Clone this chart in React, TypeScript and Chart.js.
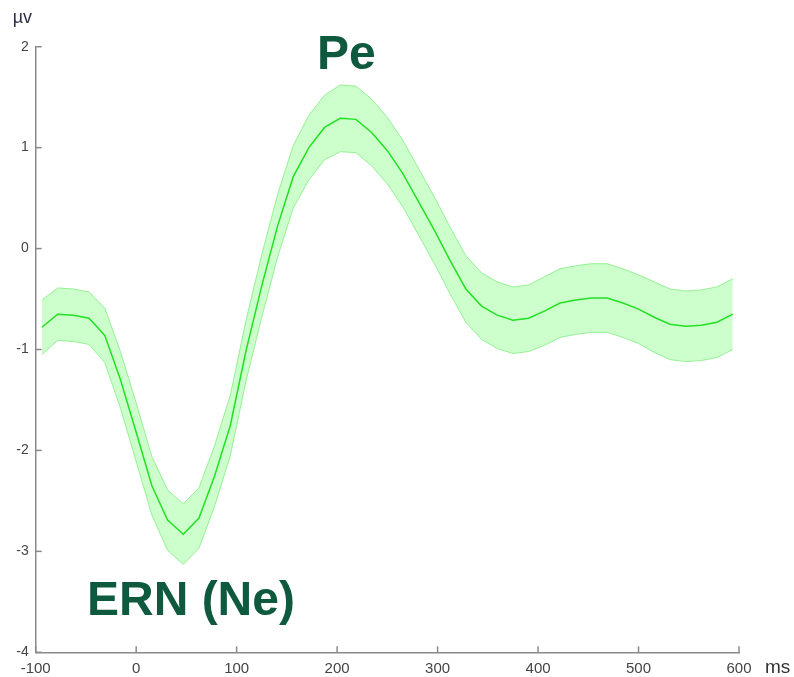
import React, { useEffect, useRef } from "react";
import { Chart, registerables } from "chart.js";

Chart.register(...registerables);

// ---- data ----
const timesMs = [
  -93.75, -78.125, -62.5, -46.875, -31.25, -15.625, 0, 15.625, 31.25, 46.875,
  62.5, 78.125, 93.75, 109.375, 125, 140.625, 156.25, 171.875, 187.5, 203.125,
  218.75, 234.375, 250, 265.625, 281.25, 296.875, 312.5, 328.125, 343.75, 359.375,
  375, 390.625, 406.25, 421.875, 437.5, 453.125, 468.75, 484.375, 500, 515.625,
  531.25, 546.875, 562.5, 578.125, 593.75,
];

const meanUv = [
  -0.78, -0.65, -0.66, -0.69, -0.86, -1.3, -1.82, -2.35, -2.69, -2.83,
  -2.67, -2.25, -1.75, -1.01, -0.37, 0.22, 0.71, 1.0, 1.2, 1.29,
  1.28, 1.15, 0.97, 0.74, 0.46, 0.18, -0.12, -0.4, -0.57, -0.66,
  -0.71, -0.69, -0.62, -0.54, -0.51, -0.49, -0.49, -0.54, -0.6, -0.68,
  -0.75, -0.77, -0.76, -0.73, -0.65,
];

const semUv = [
  0.27, 0.26, 0.26, 0.26, 0.27, 0.28, 0.29, 0.29, 0.3, 0.3,
  0.3, 0.3, 0.3, 0.3, 0.31, 0.31, 0.31, 0.32, 0.32, 0.33,
  0.33, 0.33, 0.33, 0.33, 0.33, 0.33, 0.33, 0.33, 0.33, 0.33,
  0.33, 0.33, 0.34, 0.34, 0.34, 0.34, 0.34, 0.34, 0.34, 0.35,
  0.35, 0.35, 0.35, 0.35, 0.35,
];

const xTickValues = [-100, 0, 100, 200, 300, 400, 500, 600];
const yTickValues = [-4, -3, -2, -1, 0, 1, 2];

const componentLabels = [
  { text: "Pe", x: 183, y: 1.775 },
  { text: "ERN (Ne)", x: -46, y: -3.63 },
];

const xUnitLabel = "ms";
const yUnitLabel = "µv";

// ---- styles ----
const AXIS_COLOR = "#8a8a8a";
const TICK_TEXT = "#444444";
const LINE_COLOR = "#22e022";
const BAND_FILL = "rgba(204,255,204,1)";
const BAND_EDGE = "rgba(140,240,140,0.9)";
const LABEL_GREEN = "#0f5a3e";
const FONT = "'Liberation Sans', Arial, sans-serif";

export default function App() {
  const canvasRef = useRef<HTMLCanvasElement | null>(null);

  useEffect(() => {
    const canvas = canvasRef.current;
    if (!canvas) return;

    const meanPts = timesMs.map((t, i) => ({ x: t, y: meanUv[i] }));
    const lowerPts = timesMs.map((t, i) => ({ x: t, y: meanUv[i] - semUv[i] }));
    const upperPts = timesMs.map((t, i) => ({ x: t, y: meanUv[i] + semUv[i] }));

    const overlay = {
      id: "overlay",
      afterDraw(chart: any) {
        const { ctx, chartArea } = chart;
        const xs = chart.scales.x;
        const ys = chart.scales.y;
        ctx.save();
        ctx.strokeStyle = AXIS_COLOR;
        ctx.lineWidth = 1.5;
        xTickValues.forEach((v) => {
          const px = xs.getPixelForValue(v);
          ctx.beginPath();
          ctx.moveTo(px, chartArea.bottom);
          ctx.lineTo(px, chartArea.bottom - 6);
          ctx.stroke();
        });
        yTickValues.forEach((v) => {
          const py = ys.getPixelForValue(v);
          ctx.beginPath();
          ctx.moveTo(chartArea.left, py);
          ctx.lineTo(chartArea.left + 6, py);
          ctx.stroke();
        });

        ctx.fillStyle = LABEL_GREEN;
        ctx.font = `bold 48px ${FONT}`;
        ctx.textAlign = "left";
        ctx.textBaseline = "alphabetic";
        componentLabels.forEach((l) => {
          ctx.fillText(l.text, xs.getPixelForValue(l.x) - 3, ys.getPixelForValue(l.y));
        });

        ctx.fillStyle = "#2e2e4a";
        ctx.font = `18px ${FONT}`;
        ctx.fillText(yUnitLabel, chartArea.left - 23, chartArea.top - 24);

        ctx.fillStyle = "#333333";
        ctx.font = `19px ${FONT}`;
        ctx.fillText(xUnitLabel, chartArea.right + 26, chartArea.bottom + 21);
        ctx.restore();
      },
    };

    const chart = new Chart(canvas, {
      type: "line",
      data: {
        datasets: [
          {
            label: "mean",
            data: meanPts,
            borderColor: LINE_COLOR,
            borderWidth: 1.5,
            pointRadius: 0,
            tension: 0,
            fill: false,
          },
          {
            label: "lower",
            data: lowerPts,
            borderColor: BAND_EDGE,
            borderWidth: 1,
            pointRadius: 0,
            tension: 0,
            fill: false,
          },
          {
            label: "upper",
            data: upperPts,
            borderColor: BAND_EDGE,
            borderWidth: 1,
            backgroundColor: BAND_FILL,
            pointRadius: 0,
            tension: 0,
            fill: "-1",
          },
        ],
      },
      options: {
        responsive: false,
        animation: false,
        parsing: true,
        layout: { padding: { left: 0, right: 55, top: 46.7, bottom: 0 } },
        plugins: {
          legend: { display: false },
          tooltip: { enabled: false },
          title: { display: false },
        },
        scales: {
          x: {
            type: "linear",
            min: -100,
            max: 600,
            afterBuildTicks: (scale: any) => {
              scale.ticks = xTickValues.map((v) => ({ value: v }));
            },
            afterFit: (scale: any) => {
              scale.height = 24.7;
            },
            grid: { display: true, drawOnChartArea: false, drawTicks: false },
            border: { display: true, color: AXIS_COLOR, width: 1.5 },
            ticks: {
              color: TICK_TEXT,
              font: { family: FONT, size: 15 },
              padding: 8,
              maxRotation: 0,
              autoSkip: false,
            },
          },
          y: {
            type: "linear",
            min: -4,
            max: 2,
            afterBuildTicks: (scale: any) => {
              scale.ticks = yTickValues.map((v) => ({ value: v }));
            },
            afterFit: (scale: any) => {
              scale.width = 35.7;
            },
            grid: { display: true, drawOnChartArea: false, drawTicks: false },
            border: { display: true, color: AXIS_COLOR, width: 1.5 },
            ticks: {
              color: TICK_TEXT,
              font: { family: FONT, size: 14 },
              padding: 7,
              autoSkip: false,
            },
          },
        },
      },
      plugins: [overlay],
    });

    return () => chart.destroy();
  }, []);

  return (
    <div style={{ position: "absolute", left: 0, top: 0, width: 794, height: 677, background: "#fff" }}>
      <canvas ref={canvasRef} width={794} height={677} style={{ display: "block" }} />
    </div>
  );
}
